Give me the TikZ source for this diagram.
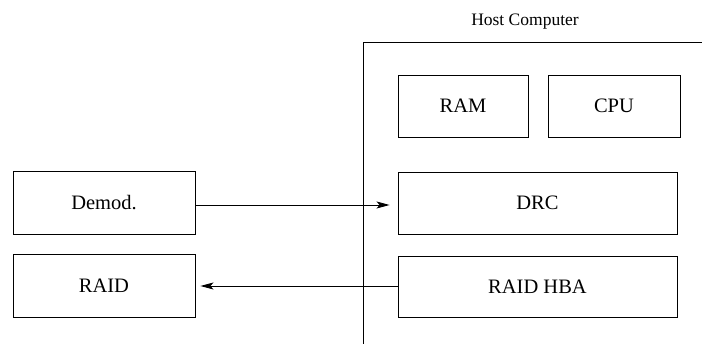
\documentclass[tikz,border=0pt]{standalone}
\usepackage{fontspec}
\setmainfont{Liberation Serif}
\usetikzlibrary{arrows.meta}
\begin{document}
\begin{tikzpicture}[x=1pt,y=-1pt,
  line width=0.9pt,
  blockbox/.style={draw, inner sep=0pt, font=\fontsize{20.5}{24}\selectfont},
  flow/.style={-{Stealth[length=13pt,width=7pt,inset=3pt]}}]
\useasboundingbox (0,0) rectangle (702,344);

% host computer enclosure, open to the right and below
\draw (702,42) -- (363,42) -- (363,344);
\node[font=\fontsize{17.5}{20}\selectfont] (host) at (525,22) {Host Computer};

% blocks inside the host
\node[blockbox, minimum width=130pt, minimum height=62pt] (ram) at (463,106) {RAM};
\node[blockbox, minimum width=132pt, minimum height=62pt] (cpu) at (614,106) {CPU};
\node[blockbox, minimum width=279pt, minimum height=62pt] (drc) at (537.5,203) {DRC};
\node[blockbox, minimum width=279pt, minimum height=61pt] (hba) at (537.5,286.5) {RAID HBA};

% external blocks
\node[blockbox, minimum width=182pt, minimum height=63pt] (demod) at (104,202.5) {Demod.};
\node[blockbox, minimum width=182pt, minimum height=63pt] (raid) at (104,285.5) {RAID};

% data paths
\draw[flow] (demod.east |- 0,205) -- ([xshift=-8pt]drc.west |- 0,205);
\draw[flow] (hba.west |- 0,286) -- ([xshift=5pt]raid.east |- 0,286);
\end{tikzpicture}
\end{document}
